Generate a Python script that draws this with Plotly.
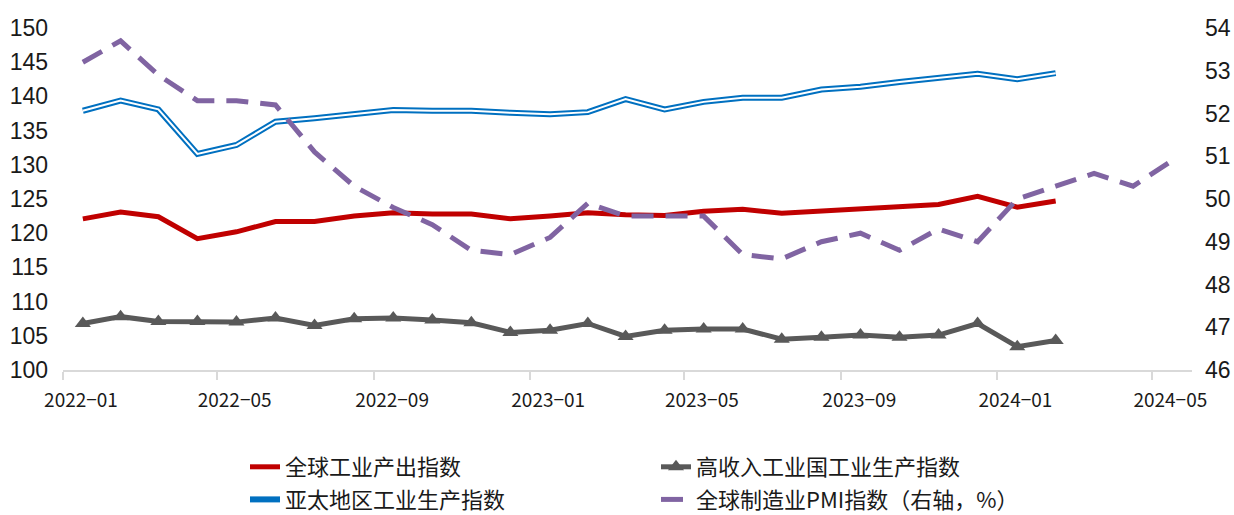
import plotly.graph_objects as go

# ---- data (monthly) ----
months = ["2022-01-01", "2022-02-01", "2022-03-01", "2022-04-01", "2022-05-01", "2022-06-01",
          "2022-07-01", "2022-08-01", "2022-09-01", "2022-10-01", "2022-11-01", "2022-12-01",
          "2023-01-01", "2023-02-01", "2023-03-01", "2023-04-01", "2023-05-01", "2023-06-01",
          "2023-07-01", "2023-08-01", "2023-09-01", "2023-10-01", "2023-11-01", "2023-12-01",
          "2024-01-01", "2024-02-01"]
months_pmi = months + ["2024-03-01", "2024-04-01", "2024-05-01"]

global_ip = [122.1, 123.1, 122.4, 119.2, 120.2, 121.7, 121.7, 122.5, 123.0, 122.8, 122.8, 122.1,
             122.5, 123.0, 122.7, 122.6, 123.2, 123.5, 122.9, 123.2, 123.6, 123.8, 124.2, 125.4,
             123.8, 124.7]
high_income_ip = [106.8, 107.8, 107.1, 107.1, 107.0, 107.6, 106.5, 107.5, 107.6, 107.3, 106.9, 105.5,
                  105.8, 106.8, 104.9, 105.8, 106.0, 106.0, 104.5, 104.8, 105.1, 104.8, 105.1, 106.8,
                  103.4, 104.3]
apac_ip = [137.9, 139.4, 138.1, 131.6, 132.9, 136.3, 136.8, 137.4, 138.0, 137.9, 137.9, 137.6,
           137.4, 137.7, 139.6, 138.1, 139.2, 139.8, 139.8, 141.0, 141.4, 142.1, 142.7, 143.3,
           142.5, 143.4]
global_pmi = [53.2, 53.7, 52.9, 52.3, 52.3, 52.2, 51.1, 50.3, 49.8, 49.4, 48.8, 48.7,
              49.1, 49.9, 49.6, 49.6, 49.6, 48.7, 48.6, 49.0, 49.2, 48.8, 49.3, 49.0,
              50.0, 50.3, 50.6, 50.3, 50.9]

names = ["全球工业产出指数", "高收入工业国工业生产指数", "亚太地区工业生产指数", "全球制造业PMI指数（右轴，%）"]

RED = "#c00000"
GRAY = "#595959"
BLUE = "#0070c0"
PURPLE = "#8064a2"

period = dict(xperiod="M1", xperiodalignment="middle")

fig = go.Figure()
fig.add_trace(go.Scatter(x=months, y=global_ip, name=names[0], mode="lines",
                         line=dict(color=RED, width=5), legend="legend",
                         legendgroup="a", **period))
fig.add_trace(go.Scatter(x=months, y=high_income_ip, name=names[1], mode="lines+markers",
                         line=dict(color=GRAY, width=5),
                         marker=dict(symbol="triangle-up", size=14, color=GRAY),
                         legend="legend2", legendgroup="b", **period))
fig.add_trace(go.Scatter(x=months, y=apac_ip, name=names[2], mode="lines",
                         line=dict(color=BLUE, width=6), legend="legend",
                         legendgroup="c", **period))
fig.add_trace(go.Scatter(x=months, y=apac_ip, name=names[2], mode="lines",
                         line=dict(color="white", width=2), showlegend=False,
                         legendgroup="c", hoverinfo="skip", **period))
fig.add_trace(go.Scatter(x=months_pmi, y=global_pmi, name=names[3], mode="lines",
                         line=dict(color=PURPLE, width=5, dash="22px,12px"),
                         yaxis="y2", legend="legend2", legendgroup="d", **period))

tick_font = dict(family="Liberation Sans, Arial", size=23, color="#1a1a1a")
legend_font = dict(family="Noto Sans CJK SC", size=22, color="#1a1a1a")

fig.update_layout(
    width=1234, height=515,
    margin=dict(l=63, r=42, t=28, b=145, autoexpand=False),
    paper_bgcolor="white", plot_bgcolor="white",
    showlegend=True,
    xaxis=dict(type="date", range=["2022-01-01", "2024-06-01"],
               tick0="2022-01-01", dtick="M4", tickformat="%Y−%m",
               showgrid=False, showline=True, linecolor="#d9d9d9", linewidth=1.5,
               ticks="outside", ticklen=8, tickcolor="#d9d9d9", tickwidth=1.5,
               ticklabelshift=18, ticklabelstandoff=4,
               tickfont=dict(family="Noto Sans CJK SC", size=19, color="#1a1a1a"),
               zeroline=False),
    yaxis=dict(range=[100, 150], dtick=5, showgrid=False, zeroline=False,
               showline=False, ticks="", tickfont=tick_font, ticklabelstandoff=14),
    yaxis2=dict(range=[46, 54], dtick=1, overlaying="y", side="right",
                showgrid=False, zeroline=False, showline=False, ticks="",
                tickfont=tick_font, ticklabelstandoff=12),
    legend=dict(xref="container", yref="container", x=245 / 1234, y=1 - 446 / 515,
                xanchor="left", yanchor="top", orientation="v",
                font=legend_font, tracegroupgap=1, bgcolor="rgba(0,0,0,0)"),
    legend2=dict(xref="container", yref="container", x=656 / 1234, y=1 - 446 / 515,
                 xanchor="left", yanchor="top", orientation="v",
                 font=legend_font, tracegroupgap=1, bgcolor="rgba(0,0,0,0)"),
)

fig.write_html("out.html", config={"displayModeBar": False},
               post_script="document.body.style.margin='0';")
